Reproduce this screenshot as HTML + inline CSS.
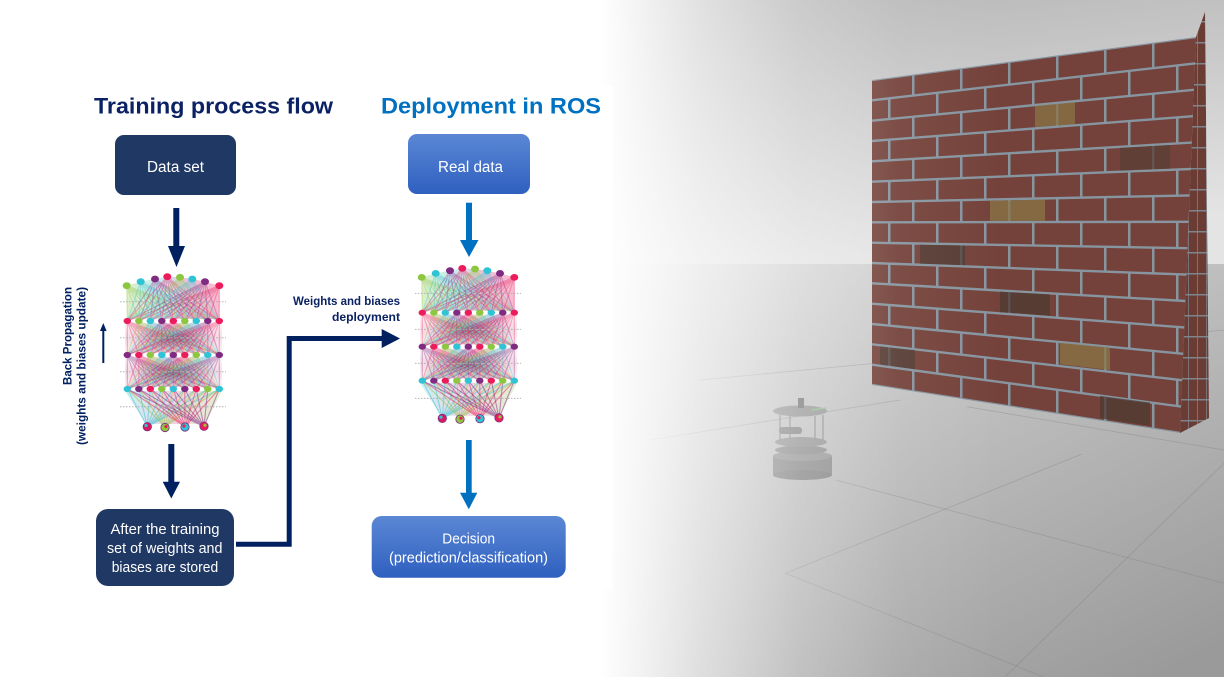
<!DOCTYPE html>
<html><head><meta charset="utf-8">
<style>
html,body{margin:0;padding:0;background:#fff;width:1224px;height:677px;overflow:hidden}
svg{display:block}
text{font-family:"Liberation Sans",Arial,sans-serif}
</style></head><body>
<svg xmlns="http://www.w3.org/2000/svg" width="1224" height="677" viewBox="0 0 1224 677">
<defs>
<linearGradient id="sky" x1="0" y1="0" x2="0.25" y2="1"><stop offset="0" stop-color="#b6b6b6"/><stop offset="1" stop-color="#e4e4e4"/></linearGradient>
<linearGradient id="ground" x1="0.1" y1="0" x2="0.9" y2="1"><stop offset="0" stop-color="#dcdcdc"/><stop offset="1" stop-color="#9a9a9a"/></linearGradient>
<linearGradient id="fade" gradientUnits="userSpaceOnUse" x1="600" y1="0" x2="1000" y2="0"><stop offset="0" stop-color="#fff" stop-opacity="1"/><stop offset="0.25" stop-color="#fff" stop-opacity="0.58"/><stop offset="0.5" stop-color="#fff" stop-opacity="0.25"/><stop offset="0.75" stop-color="#fff" stop-opacity="0.06"/><stop offset="1" stop-color="#fff" stop-opacity="0"/></linearGradient>
<linearGradient id="blue" x1="0" y1="0" x2="0" y2="1"><stop offset="0" stop-color="#5b87d4"/><stop offset="1" stop-color="#2f60c0"/></linearGradient>
<radialGradient id="haze" cx="0.5" cy="0.5" r="0.6"><stop offset="0" stop-color="#5a2450" stop-opacity="0.55"/><stop offset="0.6" stop-color="#c04a80" stop-opacity="0.28"/><stop offset="1" stop-color="#e87aa0" stop-opacity="0.12"/></radialGradient>
<linearGradient id="hazeTop" x1="0" y1="0" x2="1" y2="0"><stop offset="0" stop-color="#8dc63f" stop-opacity="0.3"/><stop offset="0.35" stop-color="#2ec4d6" stop-opacity="0.28"/><stop offset="0.65" stop-color="#c0307a" stop-opacity="0.3"/><stop offset="1" stop-color="#ec1c5c" stop-opacity="0.3"/></linearGradient>
<linearGradient id="hazeBot" x1="0" y1="0" x2="1" y2="0"><stop offset="0" stop-color="#2ec4d6" stop-opacity="0.25"/><stop offset="0.5" stop-color="#c04a80" stop-opacity="0.25"/><stop offset="1" stop-color="#8dc63f" stop-opacity="0.25"/></linearGradient>
<pattern id="bA" patternUnits="userSpaceOnUse" width="48" height="40"><rect width="48" height="40" fill="#74423a"/><rect x="0" width="2.5" height="40" fill="#8795a0"/></pattern>
<pattern id="bB" patternUnits="userSpaceOnUse" width="48" height="40"><rect width="48" height="40" fill="#74423a"/><rect x="24" width="2.5" height="40" fill="#8795a0"/></pattern>
<pattern id="side" patternUnits="userSpaceOnUse" width="9" height="21"><rect width="9" height="21" fill="#6b3c33"/><rect width="0.8" height="21" fill="#7e7f86"/><rect width="9" height="1.5" fill="#7e858c"/></pattern>
<path id="fan" d="M0 0L127.3 1M0 0L138.8 1M0 0L150.3 1M0 0L161.8 1M0 0L173.3 1M0 0L184.8 1M0 0L196.3 1M0 0L207.8 1M0 0L219.3 1" fill="none" vector-effect="non-scaling-stroke"/>
</defs>

<!-- 3D scene background -->
<rect x="600" y="0" width="624" height="265" fill="url(#sky)"/>
<rect x="600" y="264" width="624" height="413" fill="url(#ground)"/>
<g stroke="#707070" stroke-opacity=".3" stroke-width=".8" fill="none">
<path d="M835.7 480L1224 583.3"/>
<path d="M785.6 573.3L1043.7 677"/>
<path d="M966.7 406.7L1224 450"/>
<path d="M1082 454L785.6 573.3"/>
<path d="M1224 463.3L1005 677"/>
<path d="M700 380L1224 330"/>
<path d="M650 440L900 400"/>
</g>

<!-- wall front face -->
<polygon points="872,80 1196,37 1180,433 872,385" fill="#8795a0"/>
<polygon points="872,81.2 1196,38.2 1194.9,62.2 872,99.1" fill="url(#bA)"/>
<polygon points="872,101.5 1194.9,64.6 1193.9,88.6 872,119.5" fill="url(#bB)"/>
<polygon points="872,121.9 1193.9,91 1192.8,115 872,139.8" fill="url(#bA)"/>
<polygon points="872,142.2 1192.8,117.4 1191.7,141.4 872,160.1" fill="url(#bB)"/>
<polygon points="872,162.5 1191.7,143.8 1190.7,167.8 872,180.5" fill="url(#bA)"/>
<polygon points="872,182.9 1190.7,170.2 1189.6,194.2 872,200.8" fill="url(#bB)"/>
<polygon points="872,203.2 1189.6,196.6 1188.5,220.6 872,221.1" fill="url(#bA)"/>
<polygon points="872,223.5 1188.5,223 1187.5,247 872,241.5" fill="url(#bB)"/>
<polygon points="872,243.9 1187.5,249.4 1186.4,273.4 872,261.8" fill="url(#bA)"/>
<polygon points="872,264.2 1186.4,275.8 1185.3,299.8 872,282.1" fill="url(#bB)"/>
<polygon points="872,284.5 1185.3,302.2 1184.3,326.2 872,302.5" fill="url(#bA)"/>
<polygon points="872,304.9 1184.3,328.6 1183.2,352.6 872,322.8" fill="url(#bB)"/>
<polygon points="872,325.2 1183.2,355 1182.1,379 872,343.1" fill="url(#bA)"/>
<polygon points="872,345.5 1182.1,381.4 1181.1,405.4 872,363.5" fill="url(#bB)"/>
<polygon points="872,365.9 1181.1,407.8 1180,431.8 872,383.8" fill="url(#bA)"/>
<g opacity=".75">
<polygon points="1035,106 1075,102.2 1075,124 1035,127.1" fill="#8a7646"/>
<polygon points="990,200.8 1045,199.6 1045,220.8 990,220.9" fill="#8a7646"/>
<polygon points="920,244.7 965,245.5 965,265.2 920,263.6" fill="#4e3b33"/>
<polygon points="1000,291.6 1050,294.4 1050,315.8 1000,312.1" fill="#4e3b33"/>
<polygon points="1060,342.8 1110,347.5 1110,370 1060,364.3" fill="#8a7646"/>
<polygon points="880,346.4 915,350.3 915,369.2 880,364.5" fill="#4e3b33"/>
<polygon points="1100,395.9 1150,402.5 1150,425.8 1100,418.2" fill="#4e3b33"/>
<polygon points="1120,147.9 1170,145 1170,168.6 1120,170.6" fill="#5a4035"/>
</g>
<!-- wall side face -->
<polygon points="1196,37 1205,12 1209,418 1180,433" fill="url(#side)"/>

<!-- robot -->
<g opacity=".9">
<rect x="773" y="456" width="59" height="19" fill="#8a8a8a"/>
<ellipse cx="802.5" cy="475" rx="29.5" ry="5" fill="#838383"/>
<ellipse cx="802.5" cy="456" rx="29.5" ry="5" fill="#979797"/>
<ellipse cx="801" cy="450" rx="26" ry="4.5" fill="#8e8e8e"/>
<ellipse cx="801" cy="442" rx="26" ry="5" fill="#969696"/>
<g stroke="#909090" stroke-width="1.3"><path d="M780 415V440M790 416V440M815 416V440M823 415V440"/></g>
<rect x="779" y="427" width="23" height="7" rx="3" fill="#878787"/>
<ellipse cx="800" cy="411" rx="27" ry="5.5" fill="#979797"/>
<path d="M812 410L826 408" stroke="#8fbf8f" stroke-width="1.5"/>
<rect x="798" y="398" width="6" height="10" fill="#777"/>
</g>

<!-- fade overlay and white panel -->
<rect x="600" y="0" width="624" height="677" fill="url(#fade)"/>
<rect x="0" y="0" width="600" height="677" fill="#fff"/>
<rect x="0" y="86" width="613" height="503" fill="#fff"/>

<!-- Titles -->
<text x="94" y="113.5" font-size="22.5" font-weight="bold" fill="#0a2163" textLength="239" lengthAdjust="spacingAndGlyphs">Training process flow</text>
<text x="381" y="113.5" font-size="22.5" font-weight="bold" fill="#0070c0" textLength="220" lengthAdjust="spacingAndGlyphs">Deployment in ROS</text>

<!-- Boxes -->
<rect x="115" y="135" width="121" height="60" rx="9" fill="#203864"/>
<text x="147" y="172" font-size="15.5" fill="#fff" textLength="57" lengthAdjust="spacingAndGlyphs">Data set</text>
<rect x="408" y="134" width="122" height="60" rx="9" fill="url(#blue)"/>
<text x="438" y="172" font-size="15.5" fill="#fff" textLength="65" lengthAdjust="spacingAndGlyphs">Real data</text>

<!-- Arrows -->
<rect x="173.3" y="208" width="6" height="40" fill="#002060"/>
<polygon points="168,246 185,246 176.5,267" fill="#002060"/>
<rect x="466" y="202.7" width="6" height="40" fill="#0070c0"/>
<polygon points="460,240 478.5,240 469,257" fill="#0070c0"/>
<rect x="168.3" y="444" width="6" height="40" fill="#002060"/>
<polygon points="162.7,481.7 180,481.7 171.3,498.5" fill="#002060"/>
<rect x="466" y="440" width="5.7" height="54" fill="#0070c0"/>
<polygon points="460,492.7 477.3,492.7 468.8,509.3" fill="#0070c0"/>

<!-- Back propagation -->
<text transform="translate(71.5,287) rotate(-90)" text-anchor="end" font-size="11.5" font-weight="bold" fill="#002060" textLength="98" lengthAdjust="spacingAndGlyphs">Back Propagation</text>
<text transform="translate(85.5,287) rotate(-90)" text-anchor="end" font-size="11.7" font-weight="bold" fill="#002060" textLength="158" lengthAdjust="spacingAndGlyphs">(weights and biases update)</text>
<rect x="102.3" y="330" width="2" height="33" fill="#002060"/>
<polygon points="100,331 106.6,331 103.3,323" fill="#002060"/>

<!-- Weights deployment connector -->
<text x="400" y="305" text-anchor="end" font-size="11.5" font-weight="bold" fill="#0a2163" textLength="107" lengthAdjust="spacingAndGlyphs">Weights and biases</text>
<text x="400" y="321" text-anchor="end" font-size="11.5" font-weight="bold" fill="#0a2163" textLength="68" lengthAdjust="spacingAndGlyphs">deployment</text>
<polyline points="236,544.3 289.2,544.3 289.2,338.5 384,338.5" fill="none" stroke="#002060" stroke-width="5"/>
<polygon points="381.7,329 400,338.5 381.7,348" fill="#002060"/>

<!-- After training box -->
<rect x="96" y="509" width="138" height="77" rx="12" fill="#203864"/>
<text x="110.5" y="534" font-size="15" fill="#fff" textLength="109" lengthAdjust="spacingAndGlyphs">After the training</text>
<text x="107" y="553" font-size="15" fill="#fff" textLength="115.5" lengthAdjust="spacingAndGlyphs">set of weights and</text>
<text x="111.7" y="572" font-size="15" fill="#fff" textLength="106.5" lengthAdjust="spacingAndGlyphs">biases are stored</text>

<!-- Decision box -->
<rect x="371.7" y="516" width="194" height="61.7" rx="10" fill="url(#blue)"/>
<text x="442.3" y="543.5" font-size="15" fill="#fff" textLength="52.7" lengthAdjust="spacingAndGlyphs">Decision</text>
<text x="389" y="562.5" font-size="15" fill="#fff" textLength="159" lengthAdjust="spacingAndGlyphs">(prediction/classification)</text>

<!-- Neural network (left) -->
<g id="nnL">
 <polygon points="126.7,285.7 140.7,281.7 155,279 167.3,276.7 180,277.3 192.3,279 205,281.7 219.3,285.7 219.3,319 127.3,319" fill="url(#hazeTop)"/>
 <rect x="125" y="323" width="97" height="30" fill="url(#haze)"/>
 <rect x="125" y="357" width="97" height="30" fill="url(#haze)"/>
 <polygon points="125,391 222,391 205,424 146,424" fill="url(#hazeBot)"/>
 <g fill="none" stroke-width="1.2" stroke-opacity="0.33">
  <use href="#fan" transform="matrix(1 0 -126.7 35.3 126.7 285.7)" stroke="#8dc63f"/>
  <use href="#fan" transform="matrix(1 0 -140.7 39.3 140.7 281.7)" stroke="#2ec4d6"/>
  <use href="#fan" transform="matrix(1 0 -155 42 155 279)" stroke="#7f2b82"/>
  <use href="#fan" transform="matrix(1 0 -167.3 44.3 167.3 276.7)" stroke="#ec1c5c"/>
  <use href="#fan" transform="matrix(1 0 -180 43.7 180 277.3)" stroke="#8dc63f"/>
  <use href="#fan" transform="matrix(1 0 -192.3 42 192.3 279)" stroke="#2ec4d6"/>
  <use href="#fan" transform="matrix(1 0 -205 39.3 205 281.7)" stroke="#7f2b82"/>
  <use href="#fan" transform="matrix(1 0 -219.3 35.3 219.3 285.7)" stroke="#ec1c5c"/>

  <use href="#fan" transform="matrix(1 0 -127.3 34 127.3 321)" stroke="#ec1c5c"/>
  <use href="#fan" transform="matrix(1 0 -138.8 34 138.8 321)" stroke="#8dc63f"/>
  <use href="#fan" transform="matrix(1 0 -150.3 34 150.3 321)" stroke="#2ec4d6"/>
  <use href="#fan" transform="matrix(1 0 -161.8 34 161.8 321)" stroke="#7f2b82"/>
  <use href="#fan" transform="matrix(1 0 -173.3 34 173.3 321)" stroke="#ec1c5c"/>
  <use href="#fan" transform="matrix(1 0 -184.8 34 184.8 321)" stroke="#8dc63f"/>
  <use href="#fan" transform="matrix(1 0 -196.3 34 196.3 321)" stroke="#2ec4d6"/>
  <use href="#fan" transform="matrix(1 0 -207.8 34 207.8 321)" stroke="#7f2b82"/>
  <use href="#fan" transform="matrix(1 0 -219.3 34 219.3 321)" stroke="#ec1c5c"/>

  <use href="#fan" transform="matrix(1 0 -127.3 34 127.3 355)" stroke="#7f2b82"/>
  <use href="#fan" transform="matrix(1 0 -138.8 34 138.8 355)" stroke="#ec1c5c"/>
  <use href="#fan" transform="matrix(1 0 -150.3 34 150.3 355)" stroke="#8dc63f"/>
  <use href="#fan" transform="matrix(1 0 -161.8 34 161.8 355)" stroke="#2ec4d6"/>
  <use href="#fan" transform="matrix(1 0 -173.3 34 173.3 355)" stroke="#7f2b82"/>
  <use href="#fan" transform="matrix(1 0 -184.8 34 184.8 355)" stroke="#ec1c5c"/>
  <use href="#fan" transform="matrix(1 0 -196.3 34 196.3 355)" stroke="#8dc63f"/>
  <use href="#fan" transform="matrix(1 0 -207.8 34 207.8 355)" stroke="#2ec4d6"/>
  <use href="#fan" transform="matrix(1 0 -219.3 34 219.3 355)" stroke="#7f2b82"/>
 </g>
 <g fill="none" stroke-width="1.1" stroke-opacity="0.5">
  <use href="#fan" transform="matrix(1 0 -147.3 -37.7 147.3 426.7)" stroke="#2ec4d6"/>
  <use href="#fan" transform="matrix(1 0 -165 -37.7 165 426.7)" stroke="#8dc63f"/>
  <use href="#fan" transform="matrix(1 0 -185 -37.7 185 426.7)" stroke="#ec1c5c"/>
  <use href="#fan" transform="matrix(1 0 -204 -37.7 204 426.7)" stroke="#7f2b82"/>
 </g>
 <g stroke="#b0b0b0" stroke-width="1" stroke-dasharray="1.5 1.5" fill="none">
  <path d="M120 301.7H226M120 337.7H226M120 371.7H226M120 406.7H226"/>
 </g>
 <g>
  <ellipse cx="126.7" cy="285.7" rx="4" ry="3.4" fill="#8dc63f"/>
  <ellipse cx="140.7" cy="281.7" rx="4" ry="3.4" fill="#2ec4d6"/>
  <ellipse cx="155" cy="279" rx="4" ry="3.4" fill="#7f2b82"/>
  <ellipse cx="167.3" cy="276.7" rx="4" ry="3.4" fill="#ec1c5c"/>
  <ellipse cx="180" cy="277.3" rx="4" ry="3.4" fill="#8dc63f"/>
  <ellipse cx="192.3" cy="279" rx="4" ry="3.4" fill="#2ec4d6"/>
  <ellipse cx="205" cy="281.7" rx="4" ry="3.4" fill="#7f2b82"/>
  <ellipse cx="219.3" cy="285.7" rx="4" ry="3.4" fill="#ec1c5c"/>

  <ellipse cx="127.3" cy="321" rx="3.7" ry="3.1" fill="#ec1c5c"/>
  <ellipse cx="138.8" cy="321" rx="3.7" ry="3.1" fill="#8dc63f"/>
  <ellipse cx="150.3" cy="321" rx="3.7" ry="3.1" fill="#2ec4d6"/>
  <ellipse cx="161.8" cy="321" rx="3.7" ry="3.1" fill="#7f2b82"/>
  <ellipse cx="173.3" cy="321" rx="3.7" ry="3.1" fill="#ec1c5c"/>
  <ellipse cx="184.8" cy="321" rx="3.7" ry="3.1" fill="#8dc63f"/>
  <ellipse cx="196.3" cy="321" rx="3.7" ry="3.1" fill="#2ec4d6"/>
  <ellipse cx="207.8" cy="321" rx="3.7" ry="3.1" fill="#7f2b82"/>
  <ellipse cx="219.3" cy="321" rx="3.7" ry="3.1" fill="#ec1c5c"/>

  <ellipse cx="127.3" cy="355" rx="3.7" ry="3.1" fill="#7f2b82"/>
  <ellipse cx="138.8" cy="355" rx="3.7" ry="3.1" fill="#ec1c5c"/>
  <ellipse cx="150.3" cy="355" rx="3.7" ry="3.1" fill="#8dc63f"/>
  <ellipse cx="161.8" cy="355" rx="3.7" ry="3.1" fill="#2ec4d6"/>
  <ellipse cx="173.3" cy="355" rx="3.7" ry="3.1" fill="#7f2b82"/>
  <ellipse cx="184.8" cy="355" rx="3.7" ry="3.1" fill="#ec1c5c"/>
  <ellipse cx="196.3" cy="355" rx="3.7" ry="3.1" fill="#8dc63f"/>
  <ellipse cx="207.8" cy="355" rx="3.7" ry="3.1" fill="#2ec4d6"/>
  <ellipse cx="219.3" cy="355" rx="3.7" ry="3.1" fill="#7f2b82"/>

  <ellipse cx="127.3" cy="389" rx="3.7" ry="3.1" fill="#2ec4d6"/>
  <ellipse cx="138.8" cy="389" rx="3.7" ry="3.1" fill="#7f2b82"/>
  <ellipse cx="150.3" cy="389" rx="3.7" ry="3.1" fill="#ec1c5c"/>
  <ellipse cx="161.8" cy="389" rx="3.7" ry="3.1" fill="#8dc63f"/>
  <ellipse cx="173.3" cy="389" rx="3.7" ry="3.1" fill="#2ec4d6"/>
  <ellipse cx="184.8" cy="389" rx="3.7" ry="3.1" fill="#7f2b82"/>
  <ellipse cx="196.3" cy="389" rx="3.7" ry="3.1" fill="#ec1c5c"/>
  <ellipse cx="207.8" cy="389" rx="3.7" ry="3.1" fill="#8dc63f"/>
  <ellipse cx="219.3" cy="389" rx="3.7" ry="3.1" fill="#2ec4d6"/>

  <circle cx="147.3" cy="426.7" r="4.2" fill="#d81b60" stroke="#7f2b82" stroke-width=".8"/>
  <circle cx="146" cy="425.5" r="1.6" fill="#2ec4d6"/>
  <circle cx="165" cy="427.5" r="4.2" fill="#8dc63f" stroke="#7f2b82" stroke-width=".8"/>
  <circle cx="166" cy="426.5" r="1.6" fill="#ec1c5c"/>
  <circle cx="185" cy="427" r="4.2" fill="#2ec4d6" stroke="#7f2b82" stroke-width=".8"/>
  <circle cx="184" cy="426" r="1.6" fill="#ec1c5c"/>
  <circle cx="204" cy="426.2" r="4.2" fill="#ec1c5c" stroke="#7f2b82" stroke-width=".8"/>
  <circle cx="205" cy="425.2" r="1.6" fill="#8dc63f"/>
 </g>
</g>
<!-- Neural network (right) -->
<use href="#nnL" transform="translate(295,-8.3)"/>
</svg>
</body></html>
